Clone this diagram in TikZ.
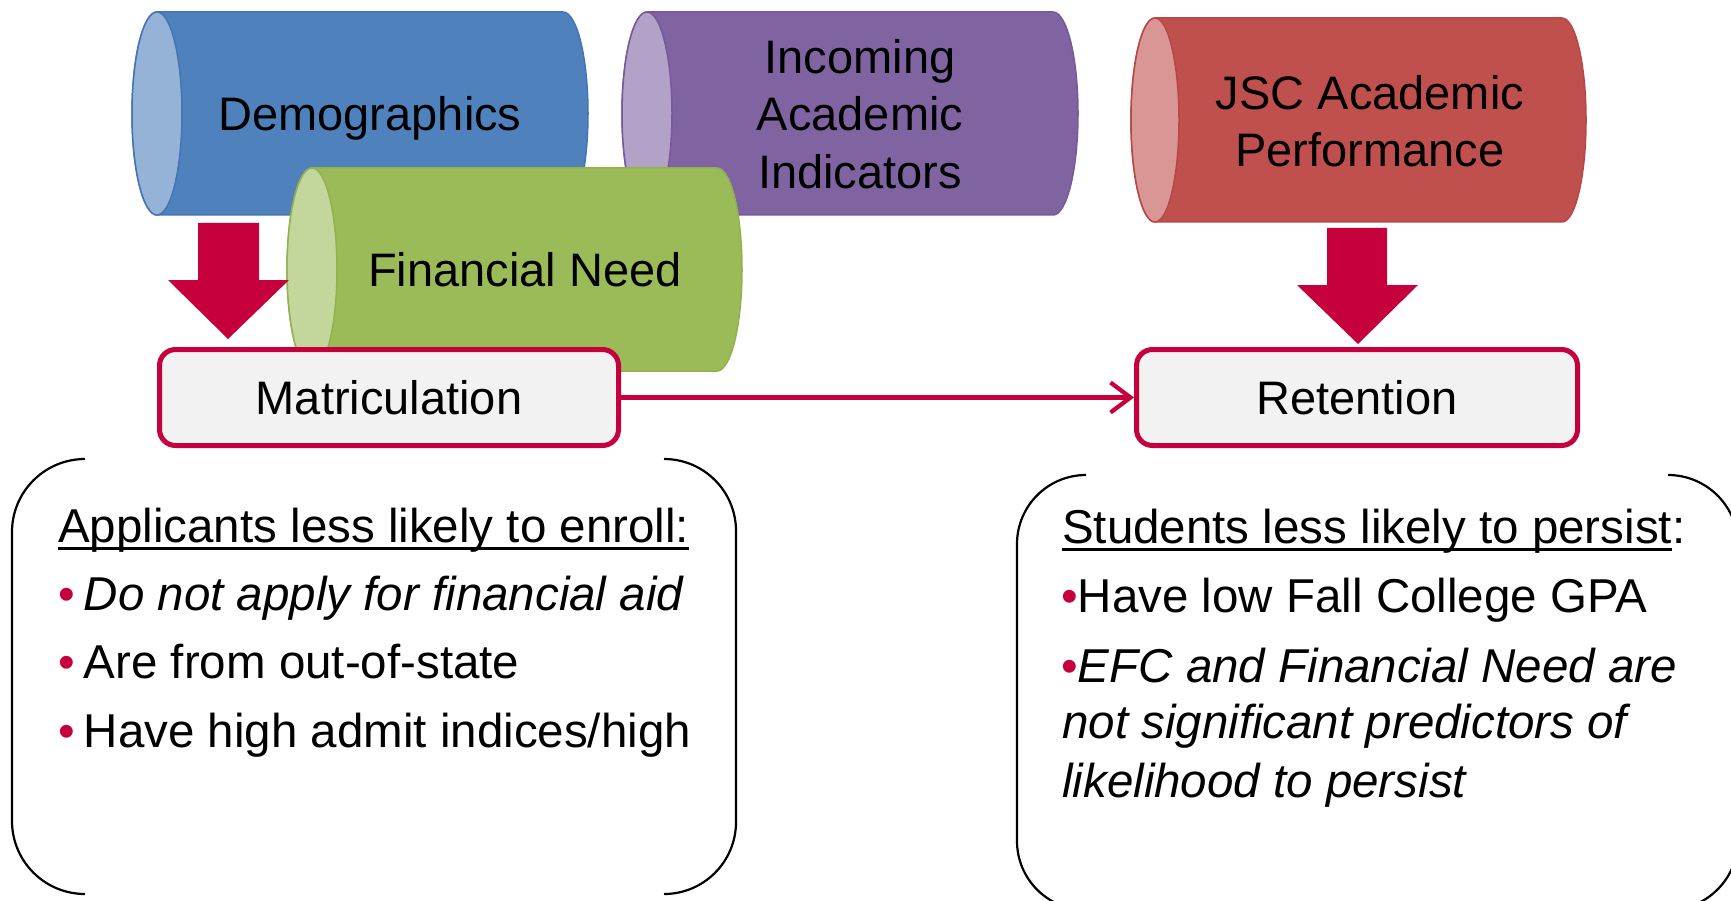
\documentclass[tikz,border=0pt]{standalone}
\usepackage{fontspec}
\setmainfont{Liberation Sans}
\usetikzlibrary{arrows.meta}
\newsavebox\myulbox
\newcommand\myul[1]{\sbox\myulbox{#1}\rlap{\rule[-7.5pt]{\wd\myulbox}{3pt}}\usebox\myulbox}
\definecolor{blueBody}{HTML}{4F81BD}
\definecolor{blueCap}{HTML}{95B3D7}
\definecolor{blueEdge}{HTML}{4375B5}
\definecolor{purpleBody}{HTML}{8064A2}
\definecolor{purpleCap}{HTML}{B3A2C7}
\definecolor{purpleEdge}{HTML}{77599B}
\definecolor{greenBody}{HTML}{9BBB59}
\definecolor{greenCap}{HTML}{C3D69B}
\definecolor{greenEdge}{HTML}{92B24E}
\definecolor{redBody}{HTML}{C0504D}
\definecolor{redCap}{HTML}{D99694}
\definecolor{redEdge}{HTML}{B54845}
\definecolor{crimson}{HTML}{C6003D}
\definecolor{boxFill}{HTML}{F2F2F2}
% cylinder: #1 left centre x, #2 right centre x, #3 top y, #4 bottom y, #5 rx, #6 ry, #7 colour prefix
\newcommand\drawcyl[7]{%
  \path[fill=#7Body, draw=#7Edge, line width=1.5pt]
    (#1,#3) -- (#2,#3) arc[start angle=90, end angle=-90, x radius=#5pt, y radius=#6pt]
    -- (#1,#4) arc[start angle=270, end angle=90, x radius=#5pt, y radius=#6pt] -- cycle;
  \path[fill=#7Cap, draw=#7Edge, line width=1.5pt]
    (#1,{(#3+#4)/2}) ellipse [x radius=#5pt, y radius=#6pt];
}
\tikzset{
  cyltext/.style={inner sep=0pt, align=center, font=\fontsize{47}{57.5}\selectfont},
  stagebox/.style={draw=crimson, fill=boxFill, line width=5pt, rounded corners=16pt,
    inner sep=0pt, minimum height=96pt, font=\fontsize{47}{57.5}\selectfont},
  listline/.style={inner sep=0pt, anchor=base west, font=\fontsize{47.5}{57.5}\selectfont},
  bracket/.style={draw=black, line width=2.2pt},
  conn/.style={draw=crimson, line width=4.2pt, -{Straight Barb[length=20pt, width=30pt]}},
  blockarrow/.style={fill=crimson}
}
\begin{document}
\begin{tikzpicture}[x=1pt, y=-1pt]
\useasboundingbox (0,0) rectangle (1731,901);
\clip (0,0) rectangle (1731,901);
% cylinders
\drawcyl{157}{563}{12}{215}{25}{101.5}{blue}
\node[cyltext, anchor=base] (demo) at (370,131) {Demographics};
\drawcyl{647}{1053}{12}{215}{25}{101.5}{purple}
\node[cyltext] (incoming) at (860,114) {Incoming\\Academic\\Indicators};
\drawcyl{312}{717}{168}{371}{25}{101.5}{green}
\node[cyltext, anchor=base] (finneed) at (525,287) {Financial Need};
\drawcyl{1155}{1562}{18}{222}{24}{102}{red}
\node[cyltext] (jsc) at (1370,121) {JSC Academic\\Performance};
% block arrows
\fill[blockarrow] (198,223) -- (259,223) -- (259,280) -- (289,280) -- (228,339) -- (168,280) -- (198,280) -- cycle;
\fill[blockarrow] (1327,228) -- (1387,228) -- (1387,285) -- (1418,285) -- (1358,344) -- (1297,285) -- (1327,285) -- cycle;
% stage boxes
\node[stagebox, minimum width=459pt] (matric) at (389,397.5) {Matriculation};
\node[stagebox, minimum width=441pt] (retent) at (1357,397.5) {Retention};
\draw[conn] (matric.east) -- (retent.west);
% left bracket box
\draw[bracket] (85,459) arc[start angle=90, end angle=180, radius=73pt] -- (12,821)
  arc[start angle=180, end angle=270, radius=73pt];
\draw[bracket] (664,459) arc[start angle=90, end angle=0, radius=72pt] -- (736,822)
  arc[start angle=0, end angle=-90, radius=72pt];
\node[listline] (enrollhead) at (58,542) {\myul{Applicants less likely to enroll:}};
\node[listline] (enrollA) at (58,610) {\textcolor{crimson}{•}\hspace{9pt}\textit{Do not apply for financial aid}};
\node[listline] (enrollB) at (58,678) {\textcolor{crimson}{•}\hspace{9pt}Are from out-of-state};
\node[listline] (enrollC) at (58,747) {\textcolor{crimson}{•}\hspace{9pt}Have high admit indices/high};
% right bracket box
\draw[bracket] (1086,475) arc[start angle=90, end angle=180, radius=69pt] -- (1017,841)
  arc[start angle=180, end angle=270, radius=69pt];
\draw[bracket] (1668,475) arc[start angle=90, end angle=0, radius=70pt] -- (1738,840)
  arc[start angle=0, end angle=-90, radius=70pt];
\node[listline] (persisthead) at (1062,543) {\myul{Students less likely to persist}:};
\node[listline] (persistA) at (1061,612) {\textcolor{crimson}{•}Have low Fall College GPA};
\node[listline] (persistB) at (1061,682) {\textcolor{crimson}{•}\textit{EFC and Financial Need are}};
\node[listline] (persistC) at (1062,738) {\textit{not significant predictors of}};
\node[listline] (persistD) at (1062,797) {\textit{likelihood to persist}};
\end{tikzpicture}
\end{document}
